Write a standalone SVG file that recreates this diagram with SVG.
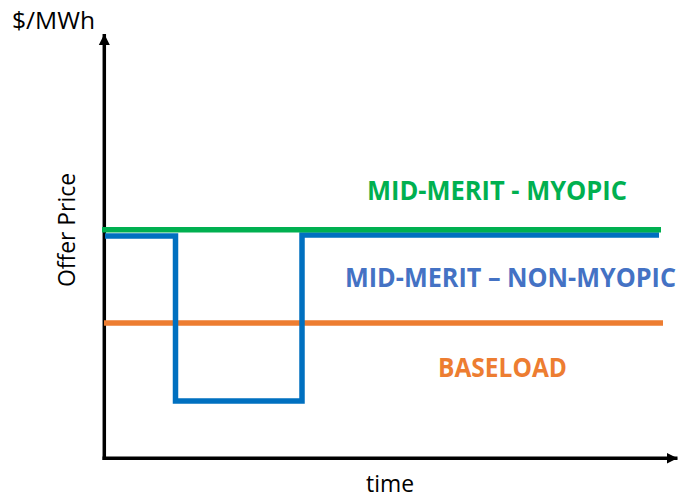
<svg xmlns="http://www.w3.org/2000/svg" width="685" height="499" viewBox="0 0 685 499">
<style>
.axis{stroke:#000;stroke-width:3.5;fill:none}
.series{fill:none;stroke-width:5.5}
.lbl{font-family:"Open Sans","Liberation Sans",sans-serif;font-weight:bold;font-size:26px}
.ax{font-family:"Open Sans","Liberation Sans",sans-serif;font-size:23px;fill:#000}
</style>
<defs>
<marker id="arr" markerUnits="userSpaceOnUse" markerWidth="12" markerHeight="12" viewBox="0 0 12 12" refX="11" refY="6" orient="auto">
<path d="M0,0.5 L11,6 L0,11.5 Z" fill="#000"/>
</marker>
</defs>
<rect width="685" height="499" fill="#fff"/>
<g id="connectors">
<path id="y-axis" class="axis" d="M104.3,460 L104.3,34" marker-end="url(#arr)"/>
<path id="x-axis" class="axis" d="M102.5,458.3 L677.5,458.3" marker-end="url(#arr)"/>
</g>
<g id="baseload">
<path class="series" stroke="#ED7D31" d="M104,323 L663,323"/>
<text class="lbl" fill="#ED7D31" x="438" y="377" font-size="27" textLength="129" lengthAdjust="spacingAndGlyphs">BASELOAD</text>
</g>
<g id="non-myopic">
<path class="series" stroke="#0070C0" d="M105,236 L175.5,236 L175.5,401 L302,401 L302,235 L659,235"/>
<text class="lbl" fill="#4472C4" x="345" y="287" font-size="23.5" textLength="331" lengthAdjust="spacingAndGlyphs">MID-MERIT – NON-MYOPIC</text>
</g>
<g id="myopic">
<path class="series" stroke="#00B050" d="M102,229.8 L661,229.8"/>
<text class="lbl" fill="#00B050" x="367" y="200" textLength="260" lengthAdjust="spacingAndGlyphs">MID-MERIT - MYOPIC</text>
</g>
<g id="labels">
<text class="ax" x="12" y="29" font-size="24" textLength="83" lengthAdjust="spacingAndGlyphs">$/MWh</text>
<text class="ax" transform="translate(75,230) rotate(-90)" text-anchor="middle" textLength="114" lengthAdjust="spacingAndGlyphs">Offer Price</text>
<text class="ax" x="366" y="492" textLength="48" lengthAdjust="spacingAndGlyphs">time</text>
</g>
</svg>
